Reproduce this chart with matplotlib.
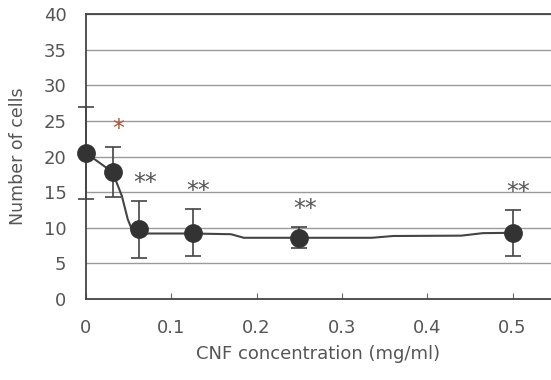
import matplotlib
matplotlib.use("Agg")
import matplotlib.pyplot as plt

# Data
conc = [0.0, 0.03125, 0.0625, 0.125, 0.25, 0.5]
cells = [20.5, 17.8, 9.8, 9.3, 8.6, 9.3]
err = [6.4, 3.5, 4.0, 3.3, 1.5, 3.2]
stars = ["", "*", "**", "**", "**", "**"]
star_colors = ["#555555", "#a8583a", "#555555", "#555555", "#555555", "#555555"]

# trend line drawn in the reference
line_x = [0.0, 0.03125, 0.042, 0.049, 0.055, 0.0625, 0.125, 0.17, 0.185, 0.25, 0.335, 0.36, 0.44, 0.465, 0.5]
line_y = [20.5, 17.8, 14.5, 11.2, 9.4, 9.2, 9.2, 9.1, 8.6, 8.6, 8.6, 8.85, 8.9, 9.25, 9.3]

xticks = [0, 0.1, 0.2, 0.3, 0.4, 0.5]
xtick_labels = ["0", "0.1", "0.2", "0.3", "0.4", "0.5"]
yticks = [0, 5, 10, 15, 20, 25, 30, 35, 40]

text_color = "#555555"
dark = "#333333"

fig = plt.figure(figsize=(5.51, 3.80), dpi=100)
ax = fig.add_axes([0.156, 0.213, 0.844, 0.750])

ax.plot(line_x, line_y, color="#444444", lw=1.5, zorder=2)
ax.errorbar(conc, cells, yerr=err, fmt="o", color=dark, ecolor="#444444",
            elinewidth=1.2, capsize=6, capthick=1.2, markersize=12.5,
            zorder=3, clip_on=False)

for x, y, e, s, c in zip(conc, cells, err, stars, star_colors):
    if s:
        ax.annotate(s, xy=(x, y + e), xytext=(4, 13), textcoords="offset points",
                    ha="center", va="center", fontsize=17, color=c)

ax.set_xlim(0, 0.545)
ax.set_ylim(0, 40)
ax.set_xticks(xticks)
ax.set_xticklabels(xtick_labels)
ax.set_yticks(yticks)

ax.yaxis.grid(True, color="#9a9a9a", lw=1.0)
ax.set_axisbelow(True)

for side in ["left", "bottom", "top"]:
    ax.spines[side].set_color("#444444")
    ax.spines[side].set_linewidth(1.3)
ax.spines["right"].set_visible(False)

ax.tick_params(axis="y", length=0, pad=14, labelsize=13, labelcolor=text_color)
ax.tick_params(axis="x", direction="in", length=4, color="#666666", pad=14,
               labelsize=13, labelcolor=text_color)

ax.set_xlabel("CNF concentration (mg/ml)", fontsize=13, color=text_color, labelpad=6)
ax.set_ylabel("Number of cells", fontsize=12.5, color=text_color, labelpad=12)

fig.savefig("out.png", dpi=100)
